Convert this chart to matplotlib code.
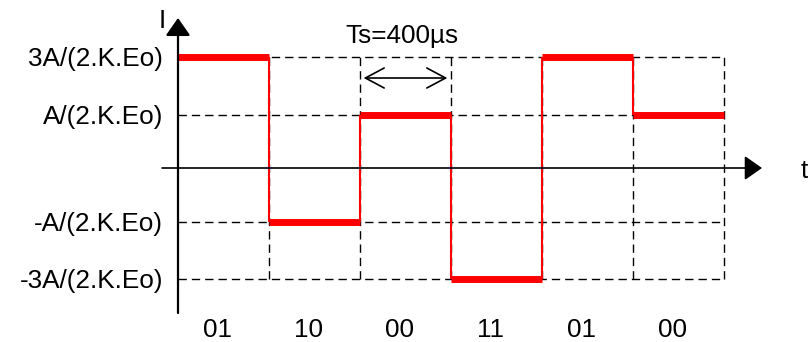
import numpy as np
import matplotlib
matplotlib.use("Agg")
import matplotlib.pyplot as plt

plt.rcParams['font.family'] = ['Liberation Sans', 'DejaVu Sans']

# symbol sequence and the current level sent for each one (in units of A/(2.K.Eo))
symbols = ['01', '10', '00', '11', '01', '00']
levels = [3, -1, 1, -3, 3, 1]
level_ticks = [3, 1, -1, -3]
level_labels = ['3A/(2.K.Eo)', 'A/(2.K.Eo)', '-A/(2.K.Eo)', '-3A/(2.K.Eo)']
ts_label = 'Ts=400µs'

FS = 18.8
W, H = 808, 342

# the schematic draws the levels closer to zero than linear
P = 0.665


def fwd(y):
    return np.sign(y) * np.abs(y) ** P


def inv(s):
    return np.sign(s) * np.abs(s) ** (1 / P)


fig = plt.figure(figsize=(W / 100, H / 100), dpi=100)
ax = fig.add_axes([0, 0, 1, 1])
ax.set_yscale('function', functions=(fwd, inv))
ax.axis('off')

# x: symbol index, 91 px per symbol, first symbol starts at px 178
ax.set_xlim(-178 / 91, (W - 178) / 91)
# y: zero at px 168, 53.5 px per scaled unit
ax.set_ylim(inv(-(H - 168) / 53.5), inv(168 / 53.5))

n = len(levels)
dash = dict(color='black', lw=1.0, linestyles=(0, (6, 3.6)), zorder=1)

# dashed grid
ax.hlines(level_ticks, 0, n, **dash)
ax.vlines(np.arange(1, n + 1), min(level_ticks), max(level_ticks), **dash)

# red signal
for i, lv in enumerate(levels):
    ax.hlines(lv, i, i + 1, color='red', lw=5, capstyle='butt', zorder=3)
    if i > 0:
        ax.vlines(i, levels[i - 1], lv, color='red', lw=1.5, zorder=2)

# axes with arrows
head = dict(arrowstyle='-|>,head_length=0.6,head_width=0.42', color='black',
            mutation_scale=18, shrinkA=0, shrinkB=0)
ax.annotate('', xy=(0, (H - 18) / H), xytext=(0, (H - 313) / H),
            xycoords=('data', 'axes fraction'),
            arrowprops=dict(lw=1.6, **head), zorder=4)
ax.annotate('', xy=(762 / W, 0), xytext=(162 / W, 0),
            xycoords=('axes fraction', 'data'),
            arrowprops=dict(lw=1.2, **head), zorder=4)
ax.text(162 / W, (H - 28) / H, 'I', transform=ax.transAxes,
        ha='center', va='baseline', fontsize=FS)
ax.text(801 / W, (H - 178) / H, 't', transform=ax.transAxes,
        ha='left', va='baseline', fontsize=FS)

# level labels
for lv, lab in zip(level_ticks, level_labels):
    ax.annotate(lab, xy=(0, lv), xytext=(-10.8, -6.6), textcoords='offset points',
                ha='right', va='baseline', fontsize=FS)

# symbol labels
for i, s in enumerate(symbols):
    ax.text(i + 0.5 - 0.066, (H - 337) / H, s, transform=ax.get_xaxis_transform(),
            ha='center', va='baseline', fontsize=FS)

# symbol period marker
ax.annotate('', xy=(2.96, (H - 78) / H), xytext=(2.04, (H - 78) / H),
            xycoords=('data', 'axes fraction'),
            arrowprops=dict(arrowstyle='<->,head_length=0.75,head_width=0.4',
                            color='black', lw=1.2, mutation_scale=18,
                            shrinkA=0, shrinkB=0))
ax.text(2.456, (H - 43) / H, ts_label, transform=ax.get_xaxis_transform(),
        ha='center', va='baseline', fontsize=FS)

fig.savefig('out.png', dpi=100)
